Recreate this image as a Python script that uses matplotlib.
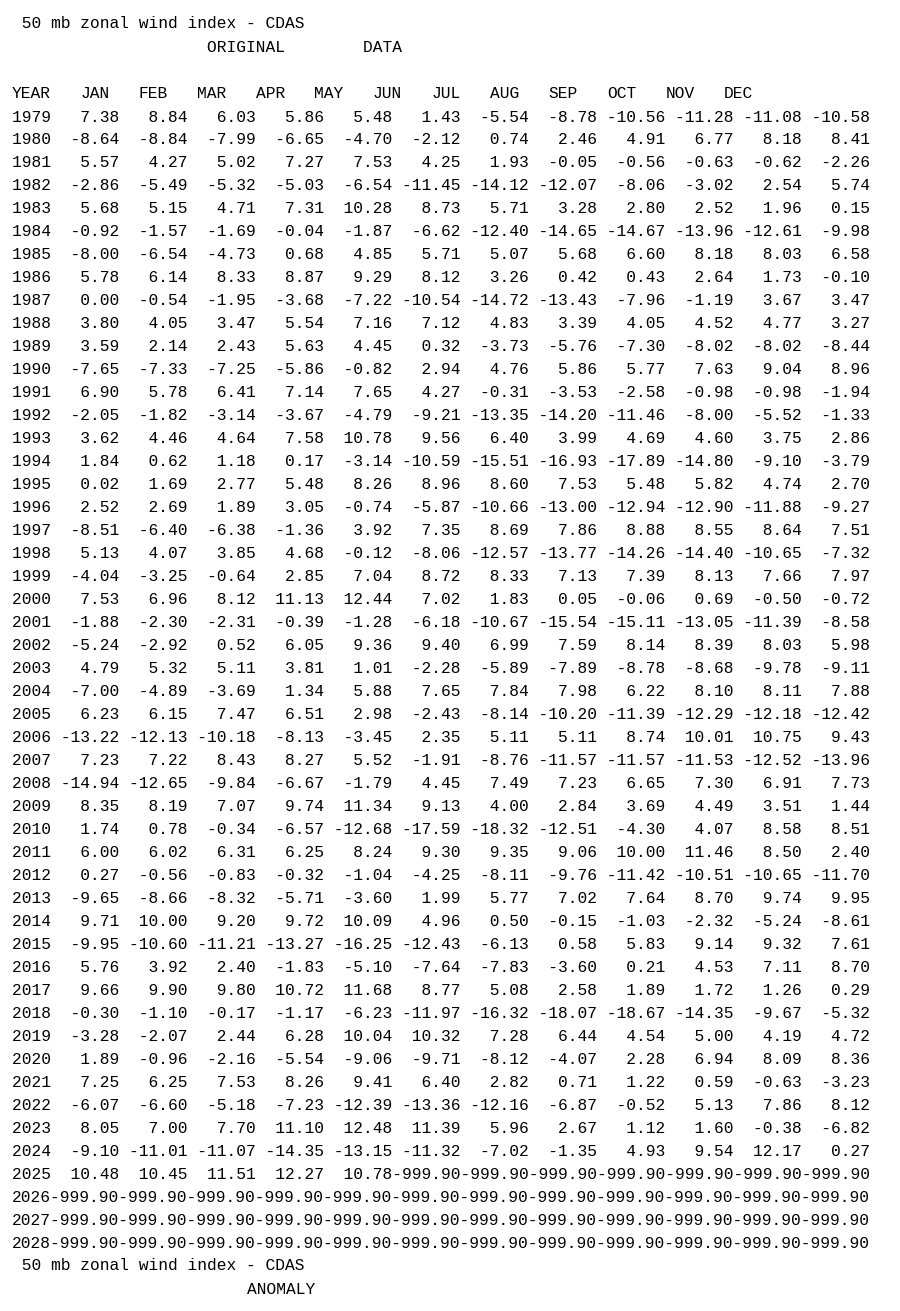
import matplotlib
matplotlib.use("Agg")
import matplotlib.pyplot as plt

MISSING = -999.9

title = " 50 mb zonal wind index - CDAS"
subtitle_top = "ORIGINAL        DATA"
subtitle_bottom = "ANOMALY"
months = ["JAN", "FEB", "MAR", "APR", "MAY", "JUN",
          "JUL", "AUG", "SEP", "OCT", "NOV", "DEC"]

years = list(range(1979, 2029))
values = [
    [7.38, 8.84, 6.03, 5.86, 5.48, 1.43, -5.54, -8.78, -10.56, -11.28, -11.08, -10.58],
    [-8.64, -8.84, -7.99, -6.65, -4.70, -2.12, 0.74, 2.46, 4.91, 6.77, 8.18, 8.41],
    [5.57, 4.27, 5.02, 7.27, 7.53, 4.25, 1.93, -0.05, -0.56, -0.63, -0.62, -2.26],
    [-2.86, -5.49, -5.32, -5.03, -6.54, -11.45, -14.12, -12.07, -8.06, -3.02, 2.54, 5.74],
    [5.68, 5.15, 4.71, 7.31, 10.28, 8.73, 5.71, 3.28, 2.80, 2.52, 1.96, 0.15],
    [-0.92, -1.57, -1.69, -0.04, -1.87, -6.62, -12.40, -14.65, -14.67, -13.96, -12.61, -9.98],
    [-8.00, -6.54, -4.73, 0.68, 4.85, 5.71, 5.07, 5.68, 6.60, 8.18, 8.03, 6.58],
    [5.78, 6.14, 8.33, 8.87, 9.29, 8.12, 3.26, 0.42, 0.43, 2.64, 1.73, -0.10],
    [0.00, -0.54, -1.95, -3.68, -7.22, -10.54, -14.72, -13.43, -7.96, -1.19, 3.67, 3.47],
    [3.80, 4.05, 3.47, 5.54, 7.16, 7.12, 4.83, 3.39, 4.05, 4.52, 4.77, 3.27],
    [3.59, 2.14, 2.43, 5.63, 4.45, 0.32, -3.73, -5.76, -7.30, -8.02, -8.02, -8.44],
    [-7.65, -7.33, -7.25, -5.86, -0.82, 2.94, 4.76, 5.86, 5.77, 7.63, 9.04, 8.96],
    [6.90, 5.78, 6.41, 7.14, 7.65, 4.27, -0.31, -3.53, -2.58, -0.98, -0.98, -1.94],
    [-2.05, -1.82, -3.14, -3.67, -4.79, -9.21, -13.35, -14.20, -11.46, -8.00, -5.52, -1.33],
    [3.62, 4.46, 4.64, 7.58, 10.78, 9.56, 6.40, 3.99, 4.69, 4.60, 3.75, 2.86],
    [1.84, 0.62, 1.18, 0.17, -3.14, -10.59, -15.51, -16.93, -17.89, -14.80, -9.10, -3.79],
    [0.02, 1.69, 2.77, 5.48, 8.26, 8.96, 8.60, 7.53, 5.48, 5.82, 4.74, 2.70],
    [2.52, 2.69, 1.89, 3.05, -0.74, -5.87, -10.66, -13.00, -12.94, -12.90, -11.88, -9.27],
    [-8.51, -6.40, -6.38, -1.36, 3.92, 7.35, 8.69, 7.86, 8.88, 8.55, 8.64, 7.51],
    [5.13, 4.07, 3.85, 4.68, -0.12, -8.06, -12.57, -13.77, -14.26, -14.40, -10.65, -7.32],
    [-4.04, -3.25, -0.64, 2.85, 7.04, 8.72, 8.33, 7.13, 7.39, 8.13, 7.66, 7.97],
    [7.53, 6.96, 8.12, 11.13, 12.44, 7.02, 1.83, 0.05, -0.06, 0.69, -0.50, -0.72],
    [-1.88, -2.30, -2.31, -0.39, -1.28, -6.18, -10.67, -15.54, -15.11, -13.05, -11.39, -8.58],
    [-5.24, -2.92, 0.52, 6.05, 9.36, 9.40, 6.99, 7.59, 8.14, 8.39, 8.03, 5.98],
    [4.79, 5.32, 5.11, 3.81, 1.01, -2.28, -5.89, -7.89, -8.78, -8.68, -9.78, -9.11],
    [-7.00, -4.89, -3.69, 1.34, 5.88, 7.65, 7.84, 7.98, 6.22, 8.10, 8.11, 7.88],
    [6.23, 6.15, 7.47, 6.51, 2.98, -2.43, -8.14, -10.20, -11.39, -12.29, -12.18, -12.42],
    [-13.22, -12.13, -10.18, -8.13, -3.45, 2.35, 5.11, 5.11, 8.74, 10.01, 10.75, 9.43],
    [7.23, 7.22, 8.43, 8.27, 5.52, -1.91, -8.76, -11.57, -11.57, -11.53, -12.52, -13.96],
    [-14.94, -12.65, -9.84, -6.67, -1.79, 4.45, 7.49, 7.23, 6.65, 7.30, 6.91, 7.73],
    [8.35, 8.19, 7.07, 9.74, 11.34, 9.13, 4.00, 2.84, 3.69, 4.49, 3.51, 1.44],
    [1.74, 0.78, -0.34, -6.57, -12.68, -17.59, -18.32, -12.51, -4.30, 4.07, 8.58, 8.51],
    [6.00, 6.02, 6.31, 6.25, 8.24, 9.30, 9.35, 9.06, 10.00, 11.46, 8.50, 2.40],
    [0.27, -0.56, -0.83, -0.32, -1.04, -4.25, -8.11, -9.76, -11.42, -10.51, -10.65, -11.70],
    [-9.65, -8.66, -8.32, -5.71, -3.60, 1.99, 5.77, 7.02, 7.64, 8.70, 9.74, 9.95],
    [9.71, 10.00, 9.20, 9.72, 10.09, 4.96, 0.50, -0.15, -1.03, -2.32, -5.24, -8.61],
    [-9.95, -10.60, -11.21, -13.27, -16.25, -12.43, -6.13, 0.58, 5.83, 9.14, 9.32, 7.61],
    [5.76, 3.92, 2.40, -1.83, -5.10, -7.64, -7.83, -3.60, 0.21, 4.53, 7.11, 8.70],
    [9.66, 9.90, 9.80, 10.72, 11.68, 8.77, 5.08, 2.58, 1.89, 1.72, 1.26, 0.29],
    [-0.30, -1.10, -0.17, -1.17, -6.23, -11.97, -16.32, -18.07, -18.67, -14.35, -9.67, -5.32],
    [-3.28, -2.07, 2.44, 6.28, 10.04, 10.32, 7.28, 6.44, 4.54, 5.00, 4.19, 4.72],
    [1.89, -0.96, -2.16, -5.54, -9.06, -9.71, -8.12, -4.07, 2.28, 6.94, 8.09, 8.36],
    [7.25, 6.25, 7.53, 8.26, 9.41, 6.40, 2.82, 0.71, 1.22, 0.59, -0.63, -3.23],
    [-6.07, -6.60, -5.18, -7.23, -12.39, -13.36, -12.16, -6.87, -0.52, 5.13, 7.86, 8.12],
    [8.05, 7.00, 7.70, 11.10, 12.48, 11.39, 5.96, 2.67, 1.12, 1.60, -0.38, -6.82],
    [-9.10, -11.01, -11.07, -14.35, -13.15, -11.32, -7.02, -1.35, 4.93, 9.54, 12.17, 0.27],
    [10.48, 10.45, 11.51, 12.27, 10.78, MISSING, MISSING, MISSING, MISSING, MISSING, MISSING, MISSING],
    [MISSING] * 12,
    [MISSING] * 12,
    [MISSING] * 12,
]

W, H = 900, 1311
fig = plt.figure(figsize=(W / 100, H / 100), dpi=100)
fig.patch.set_facecolor("white")
font = dict(family="Liberation Mono", fontsize=11.7, color="black", va="center")


def put(x, y, s, **kw):
    fig.text(x / W, 1 - y / H, s, **font, **kw)


put(12, 24, title)
put(207, 47, subtitle_top)

put(12, 94, "YEAR")
for i, m in enumerate(months):
    put(95 + i * 58.5, 94, m, ha="center")

for i, (yr, row) in enumerate(zip(years, values)):
    line = "%4d" % yr + "".join("%7.2f" % v for v in row)
    put(12, 117 + i * 22.98, line)

put(12, 1266, title)
put(247, 1289, subtitle_bottom)

fig.savefig("out.png", dpi=100)
